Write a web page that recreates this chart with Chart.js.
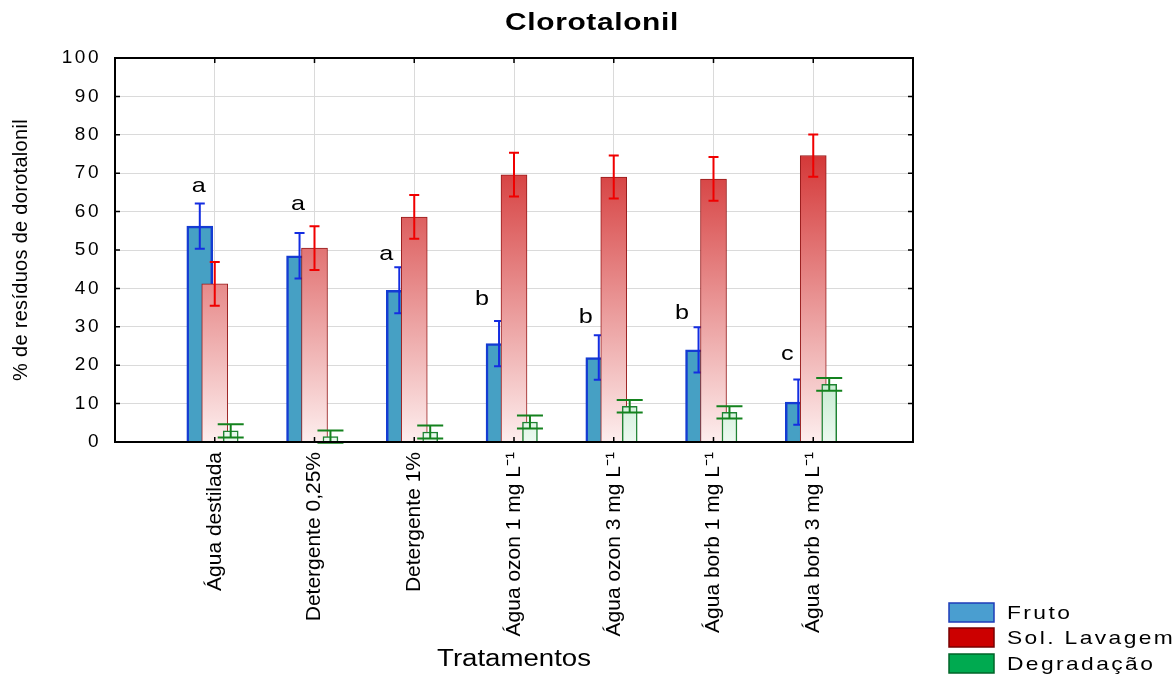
<!DOCTYPE html>
<html>
<head>
<meta charset="utf-8">
<title>Clorotalonil</title>
<script src="https://cdn.jsdelivr.net/npm/chart.js@4.4.1/dist/chart.umd.min.js"></script>
<style>
  html, body { margin: 0; padding: 0; background: #ffffff; }
  canvas { display: block; }
</style>
</head>
<body>
<canvas id="chart" width="1175" height="677"></canvas>
<script>
// Treatments on the horizontal axis
const categories = [
  'Água destilada',
  'Detergente 0,25%',
  'Detergente 1%',
  'Água ozon 1 mg L⁻¹',
  'Água ozon 3 mg L⁻¹',
  'Água borb 1 mg L⁻¹',
  'Água borb 3 mg L⁻¹'
];

// % of chlorothalonil residue per fraction (mean and error)
const fruto          = [56.2, 48.5, 39.5, 25.6, 22.0, 24.0, 10.4];
const frutoErr       = [5.9, 5.9, 6.0, 5.9, 5.8, 5.9, 5.9];
const lavagem        = [41.2, 50.5, 58.6, 69.6, 69.0, 68.5, 74.6];
const lavagemErr     = [5.7, 5.7, 5.7, 5.7, 5.6, 5.7, 5.5];
const degradacao     = [2.9, 1.4, 2.6, 5.2, 9.3, 7.7, 15.0];
const degradacaoErr  = [1.7, 1.6, 1.7, 1.7, 1.65, 1.6, 1.65];

// Significance letters for the fruit fraction
const groupLetters = ['a', 'a', 'a', 'b', 'b', 'b', 'c'];

const FONT = '"Liberation Sans", Arial, Helvetica, sans-serif';

// Horizontal shift of each series inside a treatment slot (axis units)
const SHIFT = { fruto: -0.15, lavagem: 0, degradacao: 0.16 };

const points = (vals, shift) => vals.map((v, i) => ({ x: i + 1 + shift, y: v }));

function verticalGradient(stops, fallback) {
  return (c) => {
    const area = c.chart.chartArea;
    if (!area) return fallback;
    const g = c.chart.ctx.createLinearGradient(0, area.bottom, 0, area.top);
    stops.forEach(([o, col]) => g.addColorStop(o, col));
    return g;
  };
}

// Text with optional horizontal stretch and tracking
function drawText(ctx, text, x, y, o) {
  ctx.save();
  ctx.translate(x, y);
  if (o.rotate) ctx.rotate(o.rotate);
  if (o.stretch) ctx.scale(o.stretch, 1);
  ctx.font = o.font;
  ctx.fillStyle = o.color || '#000';
  ctx.textAlign = o.align || 'center';
  ctx.textBaseline = o.baseline || 'middle';
  if ('letterSpacing' in ctx) ctx.letterSpacing = (o.spacing || 0) + 'px';
  ctx.fillText(text, 0, 0);
  ctx.restore();
}

// Wider tracking for axis tick labels
function spacedLabels(px) {
  return (scale) => {
    if (scale._spacedLabels) return;
    scale._spacedLabels = true;
    const orig = scale.drawLabels.bind(scale);
    scale.drawLabels = (area) => {
      const c = scale.ctx;
      const prev = c.letterSpacing;
      if ('letterSpacing' in c) c.letterSpacing = px + 'px';
      orig(area);
      if ('letterSpacing' in c) c.letterSpacing = prev;
    };
  };
}

// Vertical error whiskers drawn right after each series
const errorBars = {
  id: 'errorBars',
  afterDatasetDraw(chart, args) {
    const ds = chart.data.datasets[args.index];
    if (!ds.errors) return;
    const ys = chart.scales.y;
    const ctx = chart.ctx;
    ctx.save();
    ctx.strokeStyle = ds.errorColor;
    ctx.lineWidth = 2;
    args.meta.data.forEach((el, i) => {
      const v = ds.data[i].y, e = ds.errors[i];
      const top = ys.getPixelForValue(v + e);
      const bot = ys.getPixelForValue(v - e);
      const x = el.x;
      const h = ds.capHalf;
      ctx.beginPath();
      ctx.moveTo(x, top); ctx.lineTo(x, bot);
      ctx.moveTo(x - h, top); ctx.lineTo(x + h, top);
      ctx.moveTo(x - h, bot); ctx.lineTo(x + h, bot);
      ctx.stroke();
    });
    ctx.restore();
  }
};

// Frame, inward ticks, letters, titles and legend
const decorations = {
  id: 'decorations',
  afterDraw(chart, args, opts) {
    const ctx = chart.ctx;
    const a = chart.chartArea;
    const xs = chart.scales.x, ys = chart.scales.y;

    // inward tick marks
    ctx.save();
    ctx.strokeStyle = '#000';
    ctx.lineWidth = 1.5;
    ctx.beginPath();
    ys.ticks.forEach(t => {
      const py = ys.getPixelForValue(t.value);
      ctx.moveTo(a.left, py); ctx.lineTo(a.left + 5, py);
      ctx.moveTo(a.right, py); ctx.lineTo(a.right - 5, py);
    });
    categories.forEach((c, i) => {
      const px = xs.getPixelForValue(i + 1);
      ctx.moveTo(px, a.bottom); ctx.lineTo(px, a.bottom - 5);
      ctx.moveTo(px, a.top); ctx.lineTo(px, a.top + 5);
    });
    ctx.stroke();

    // plot frame
    ctx.lineWidth = 2;
    ctx.strokeRect(a.left, a.top, a.right - a.left, a.bottom - a.top);
    ctx.restore();

    // significance letters above the fruit bars
    const meta = chart.getDatasetMeta(0);
    groupLetters.forEach((L, i) => {
      const el = meta.data[i];
      const [dx, dy] = opts.letterNudge[i];
      const py = ys.getPixelForValue(fruto[i] + frutoErr[i]);
      drawText(ctx, L, el.x + dx, py + dy, { font: '21px ' + FONT, stretch: 1.2 });
    });

    // chart title
    drawText(ctx, 'Clorotalonil', 592, 24, { font: 'bold 23px ' + FONT, stretch: 1.3, spacing: 0.5 });

    // axis titles
    drawText(ctx, '% de resíduos de dorotalonil', 21, (a.top + a.bottom) / 2,
      { font: '20px ' + FONT, spacing: 0.3, rotate: -Math.PI / 2 });
    drawText(ctx, 'Tratamentos', (a.left + a.right) / 2, 660, { font: '23px ' + FONT, stretch: 1.2 });

    // legend
    const items = [
      { label: 'Fruto',        fill: 'rgb(74,158,208)', stroke: 'rgb(30,60,185)', y: 603 },
      { label: 'Sol. Lavagem', fill: 'rgb(204,0,0)',    stroke: 'rgb(120,0,0)',   y: 628 },
      { label: 'Degradação',   fill: 'rgb(0,170,80)',   stroke: 'rgb(0,100,40)',  y: 654 }
    ];
    items.forEach(it => {
      ctx.save();
      ctx.fillStyle = it.fill;
      ctx.strokeStyle = it.stroke;
      ctx.lineWidth = 1.5;
      ctx.fillRect(949, it.y, 45, 19);
      ctx.strokeRect(949, it.y, 45, 19);
      ctx.restore();
      drawText(ctx, it.label, 1007, it.y + 11, { font: '19px ' + FONT, stretch: 1.2, spacing: 2, align: 'left' });
    });
  }
};

new Chart(document.getElementById('chart'), {
  type: 'bar',
  data: {
    datasets: [
      {
        label: 'Fruto',
        data: points(fruto, SHIFT.fruto),
        errors: frutoErr,
        errorColor: 'rgb(20,45,225)',
        capHalf: 5,
        backgroundColor: 'rgb(70,160,196)',
        borderColor: 'rgb(20,60,210)',
        borderWidth: 2.5,
        barThickness: 26,
        order: 3
      },
      {
        label: 'Sol. Lavagem',
        data: points(lavagem, SHIFT.lavagem),
        errors: lavagemErr,
        errorColor: 'rgb(240,0,0)',
        capHalf: 5,
        backgroundColor: verticalGradient([
          [0, 'rgb(253,238,238)'],
          [0.75, 'rgb(212,55,55)'],
          [1, 'rgb(200,30,30)']
        ], 'rgb(220,80,80)'),
        borderColor: 'rgb(150,25,25)',
        borderWidth: 1,
        barThickness: 26,
        order: 2
      },
      {
        label: 'Degradação',
        data: points(degradacao, SHIFT.degradacao),
        errors: degradacaoErr,
        errorColor: 'rgb(20,130,30)',
        capHalf: 13,
        backgroundColor: verticalGradient([
          [0, 'rgb(236,249,240)'],
          [0.15, 'rgb(200,236,210)'],
          [1, 'rgb(100,200,130)']
        ], 'rgb(210,240,220)'),
        borderColor: 'rgb(30,130,50)',
        borderWidth: 1.5,
        barThickness: 15,
        order: 1
      }
    ]
  },
  options: {
    responsive: false,
    animation: false,
    events: [],
    layout: { padding: { top: 58, right: 262, bottom: 0, left: 0 } },
    datasets: { bar: { grouped: false } },
    scales: {
      x: {
        type: 'linear',
        min: 0,
        max: 8,
        offset: false,
        afterFit: (s) => { s.height = 235; },
        grid: { color: '#dadada', lineWidth: 1, drawTicks: false, offset: false },
        border: { display: false },
        ticks: {
          stepSize: 1,
          autoSkip: false,
          minRotation: 90,
          maxRotation: 90,
          padding: 10,
          color: '#000',
          font: { family: FONT, size: 21 },
          callback: (v) => (Number.isInteger(v) && categories[v - 1]) ? categories[v - 1] : ''
        }
      },
      y: {
        min: 0,
        max: 100,
        afterFit: (s) => { s.width = 115; },
        afterUpdate: spacedLabels(2.5),
        grid: { color: '#dadada', lineWidth: 1, drawTicks: false },
        border: { display: false },
        ticks: {
          stepSize: 10,
          padding: 14,
          color: '#000',
          font: { family: FONT, size: 19 }
        }
      }
    },
    plugins: {
      legend: { display: false },
      title: { display: false },
      tooltip: { enabled: false },
      decorations: {
        letterNudge: [[-1, -17.5], [-1.5, -29], [-13, -13.3], [-17, -22], [-13, -18], [-16.5, -14], [-11, -25]]
      }
    }
  },
  plugins: [errorBars, decorations]
});
</script>
</body>
</html>
